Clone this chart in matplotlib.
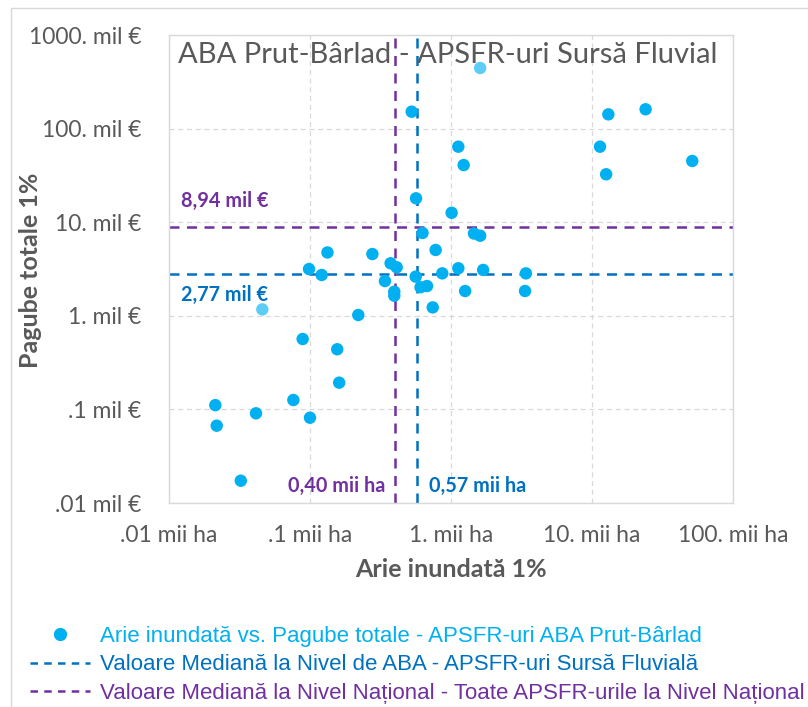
import numpy as np
import matplotlib
matplotlib.use("Agg")
import matplotlib.pyplot as plt
from matplotlib.lines import Line2D
from matplotlib.patches import Rectangle
from matplotlib.ticker import FixedLocator, NullLocator

# arie inundata 1% (mii ha) / pagube totale 1% (mil euro)
arie = [0.526, 1.127, 1.23, 13.06, 24.0, 11.4, 12.6, 51.4, 0.565, 1.01,
        0.628, 1.456, 1.61, 0.778, 0.133, 0.277, 0.373, 0.412, 0.0984, 0.121,
        0.562, 0.867, 1.127, 1.69, 3.40, 0.340, 0.608, 0.676, 1.26, 3.35,
        0.396, 0.396, 0.742, 0.220, 0.0887, 0.156, 0.161, 0.0213, 0.0762, 0.0414,
        0.100, 0.0218, 0.0323]
pagube = [151.6, 64.1, 40.8, 142.0, 160.8, 64.1, 32.5, 45.1, 18.0, 12.6,
          7.67, 7.57, 7.17, 5.05, 4.75, 4.57, 3.64, 3.30, 3.16, 2.73,
          2.62, 2.84, 3.22, 3.09, 2.84, 2.35, 2.02, 2.08, 1.84, 1.84,
          1.81, 1.64, 1.23, 1.02, 0.565, 0.439, 0.193, 0.111, 0.126, 0.0908,
          0.0815, 0.067, 0.0173]
# cele doua puncte mai deschise la culoare
arie_light = [1.61, 0.0459]
pagube_light = [444.0, 1.17]

median_aba_x = 0.57
median_aba_y = 2.77
median_nat_x = 0.40
median_nat_y = 8.94

xticks = [0.01, 0.1, 1, 10, 100]
xtick_labels = [".01 mii ha", ".1 mii ha", "1. mii ha", "10. mii ha", "100. mii ha"]
yticks = [0.01, 0.1, 1, 10, 100, 1000]
ytick_labels = [".01 mil €", ".1 mil €", "1. mil €", "10. mil €", "100. mil €", "1000. mil €"]

legend_labels = ["Arie inundată vs. Pagube totale - APSFR-uri ABA Prut-Bârlad",
                 "Valoare Mediană la Nivel de ABA - APSFR-uri Sursă Fluvială",
                 "Valoare Mediană la Nivel Național - Toate APSFR-urile la Nivel Național"]

C_PT = "#00B0F0"
C_LIGHT = "#5DCDF5"
C_ABA = "#0070C0"
C_NAT = "#7030A0"
GREY = "#595959"

plt.rcParams['font.family'] = ['Lato', 'DejaVu Sans']

fig = plt.figure(figsize=(8.08, 7.07), dpi=100)
# chenarul exterior al graficului
fig.patches.append(Rectangle((11 / 808, -0.1), 1.2, 1 - 8 / 707 + 0.1,
                             transform=fig.transFigure, fill=False,
                             edgecolor="#D9D9D9", lw=1))
ax = fig.add_axes([169 / 808, 1 - 503 / 707, 564 / 808, 468 / 707])

ax.set_xscale("log")
ax.set_yscale("log")
ax.set_xlim(0.01, 100)
ax.set_ylim(0.01, 1000)

ax.xaxis.set_major_locator(FixedLocator(xticks))
ax.yaxis.set_major_locator(FixedLocator(yticks))
ax.xaxis.set_minor_locator(NullLocator())
ax.yaxis.set_minor_locator(NullLocator())
ax.set_xticklabels(xtick_labels)
ax.set_yticklabels(ytick_labels)
ax.tick_params(length=0, labelsize=16.5, labelcolor=GREY)
ax.tick_params(axis="x", pad=16)
ax.tick_params(axis="y", pad=20)

ax.grid(True, color="#D9D9D9", ls=(0, (4, 3)), lw=0.9)
ax.set_axisbelow(True)
for s in ax.spines.values():
    s.set_color("#D9D9D9")
    s.set_linewidth(1)

ax.axhline(median_nat_y, color=C_NAT, ls=(0, (4, 3)), lw=1.8, clip_on=False, zorder=2)
ax.axvline(median_nat_x, color=C_NAT, ls=(0, (4, 3)), lw=1.8, zorder=2)
ax.axhline(median_aba_y, color=C_ABA, ls=(0, (4, 3)), lw=1.8, clip_on=False, zorder=2)
ax.axvline(median_aba_x, color=C_ABA, ls=(0, (4, 3)), lw=1.8, zorder=2)

ax.scatter(arie, pagube, s=80, color=C_PT, edgecolors="none", zorder=3)
ax.scatter(arie_light, pagube_light, s=80, color=C_LIGHT, edgecolors="none", zorder=3)

ax.text(0.016, 0.985, "ABA Prut-Bârlad - APSFR-uri Sursă Fluvial", transform=ax.transAxes,
        ha="left", va="top", fontsize=21, color=GREY)

ax.text(0.021, 0.645, "8,94 mil €", transform=ax.transAxes, ha="left", va="center",
        fontsize=14.3, fontweight="bold", color=C_NAT)
ax.text(0.021, 0.444, "2,77 mil €", transform=ax.transAxes, ha="left", va="center",
        fontsize=14.3, fontweight="bold", color=C_ABA)
ax.text(0.383, 0.036, "0,40 mii ha", transform=ax.transAxes, ha="right", va="center",
        fontsize=14.3, fontweight="bold", color=C_NAT)
ax.text(0.461, 0.036, "0,57 mii ha", transform=ax.transAxes, ha="left", va="center",
        fontsize=14.3, fontweight="bold", color=C_ABA)

ax.set_xlabel("Arie inundată 1%", fontsize=18, fontweight="bold", color=GREY)
ax.set_ylabel("Pagube totale 1%", fontsize=18, fontweight="bold", color=GREY)
ax.xaxis.label.set_va("center")
ax.yaxis.label.set_va("center")
ax.xaxis.set_label_coords(0.5, -0.143)
ax.yaxis.set_label_coords(-0.246, 0.498)

handles = [Line2D([], [], ls="none", marker="o", ms=8.5, color=C_PT),
           Line2D([], [], ls=(0, (3, 2.5)), lw=1.8, color=C_ABA),
           Line2D([], [], ls=(0, (3, 2.5)), lw=1.8, color=C_NAT)]
leg = fig.legend(handles, legend_labels, loc="upper left", bbox_to_anchor=(10 / 808, 1 - 606 / 707),
                 frameon=False, handlelength=2.7, handletextpad=0.45, labelspacing=0.33,
                 prop={"family": ["Liberation Sans", "DejaVu Sans"], "size": 16},
                 labelcolor=[C_PT, C_ABA, C_NAT])

fig.savefig("out.png", dpi=100)
